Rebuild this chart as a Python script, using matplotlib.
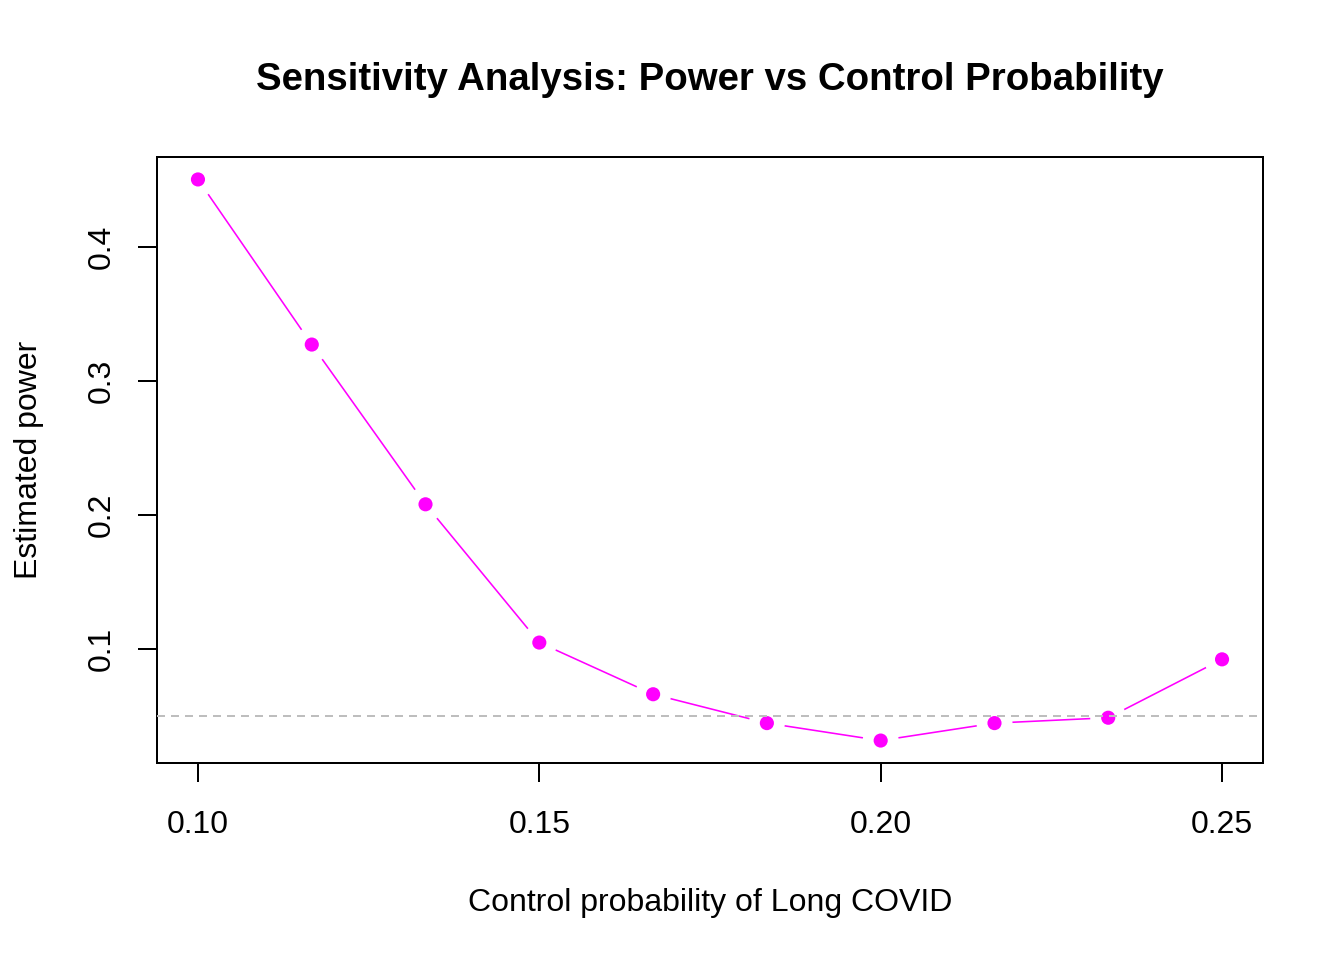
import matplotlib
matplotlib.use("Agg")
import matplotlib.pyplot as plt

plt.rcParams['font.family'] = ['Liberation Sans', 'DejaVu Sans']

control_prob = [0.10, 0.11667, 0.13333, 0.15, 0.16667, 0.18333, 0.20, 0.21667, 0.23333, 0.25]
power = [0.450, 0.327, 0.208, 0.105, 0.0665, 0.045, 0.032, 0.045, 0.049, 0.0925]
alpha_level = 0.05
x_ticks = [0.10, 0.15, 0.20, 0.25]
x_tick_labels = ["0.10", "0.15", "0.20", "0.25"]
y_ticks = [0.1, 0.2, 0.3, 0.4]
y_tick_labels = ["0.1", "0.2", "0.3", "0.4"]

fig = plt.figure(figsize=(7, 5), dpi=192)
ax = fig.add_axes([157/1344, 1-763/960, (1263-157)/1344, (763-157)/960])

ax.plot(control_prob, power, color='#FF00FF', lw=0.6, zorder=1, solid_capstyle='butt')
ax.scatter(control_prob, power, s=13.5**2, color='white', edgecolors='none', zorder=2)
ax.scatter(control_prob, power, s=5.3**2, color='#FF00FF', edgecolors='none', zorder=3)
ax.axhline(alpha_level, color='#BEBEBE', lw=0.75, ls=(0, (4, 3)), zorder=4)

rng = max(power) - min(power)
ax.set_ylim(min(power) - 0.04*rng, max(power) + 0.04*rng)
xr = max(control_prob) - min(control_prob)
ax.set_xlim(min(control_prob) - 0.04*xr, max(control_prob) + 0.04*xr)

ax.set_xticks(x_ticks)
ax.set_xticklabels(x_tick_labels, fontsize=12)
ax.set_yticks(y_ticks)
ax.set_yticklabels(y_tick_labels, fontsize=12, rotation=90, va='center')
ax.tick_params(direction='out', length=7.2, width=0.75)
ax.tick_params(axis='x', pad=10.3)
ax.tick_params(axis='y', pad=8)
for s in ax.spines.values():
    s.set_linewidth(0.75)

ax.set_xlabel("Control probability of Long COVID", fontsize=12, labelpad=18)
ax.set_ylabel("Estimated power", fontsize=12, labelpad=16)
fig.text((157+1263)/2/1344, 1-80/960, "Sensitivity Analysis: Power vs Control Probability",
         fontsize=14.4, fontweight='bold', ha='center', va='center')

fig.savefig("out.png", dpi=192)
